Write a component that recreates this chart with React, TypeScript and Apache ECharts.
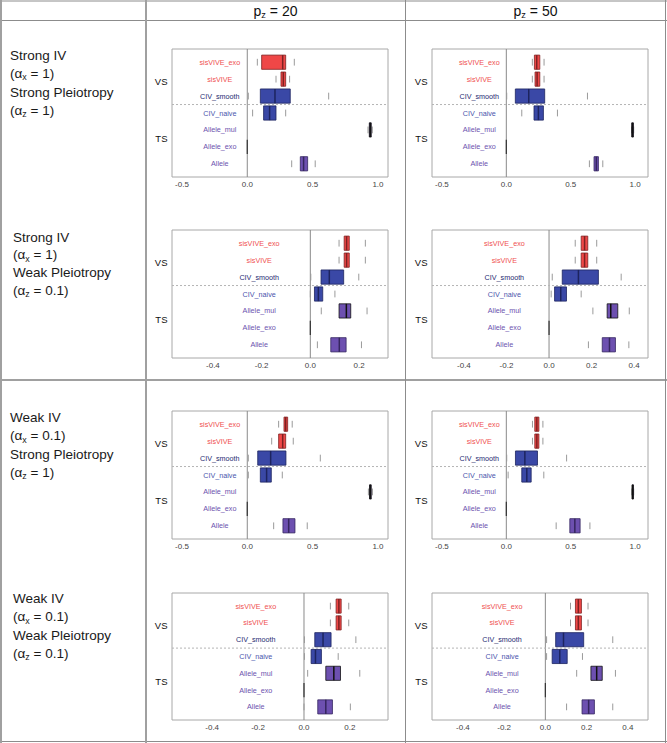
import React, { useEffect, useRef } from "react";
import * as echarts from "echarts";

// ---------- data ----------
const methods = ["sisVIVE_exo", "sisVIVE", "CIV_smooth", "CIV_naive", "Allele_mul", "Allele_exo", "Allele"];
const methodPos = [7, 6, 5, 4, 3, 2, 1];
const groupNames = ["VS", "TS"];
const groupPos = [5.85, 2.5];
const colTitles = ["20", "50"];

// each row: [lower staple, q1, median, q3, upper staple]
const strongIVStrongPleioPz20 = [
  [0.077, 0.110, 0.271, 0.294, 0.360],
  [0.220, 0.258, 0.276, 0.294, 0.324],
  [0.008, 0.100, 0.212, 0.329, 0.623],
  [0.041, 0.125, 0.171, 0.220, 0.294],
  [0.924, 0.934, 0.941, 0.949, 0.957],
  [0, 0, 0, 0, 0],
  [0.340, 0.406, 0.431, 0.462, 0.520],
];
const strongIVStrongPleioPz50 = [
  [0.202, 0.218, 0.236, 0.260, 0.293],
  [0.202, 0.223, 0.239, 0.260, 0.293],
  [0.003, 0.070, 0.174, 0.298, 0.630],
  [0.120, 0.215, 0.249, 0.288, 0.397],
  [0.972, 0.974, 0.979, 0.987, 0.989],
  [0, 0, 0, 0, 0],
  [0.645, 0.681, 0.699, 0.715, 0.749],
];
const strongIVWeakPleioPz20 = [
  [0.118, 0.139, 0.149, 0.160, 0.226],
  [0.118, 0.139, 0.149, 0.160, 0.226],
  [0.002, 0.044, 0.078, 0.137, 0.199],
  [0.000, 0.017, 0.033, 0.051, 0.101],
  [0.045, 0.118, 0.148, 0.166, 0.233],
  [0, 0, 0, 0, 0],
  [0.029, 0.084, 0.119, 0.147, 0.210],
];
const strongIVWeakPleioPz50 = [
  [0.123, 0.151, 0.167, 0.182, 0.224],
  [0.123, 0.151, 0.167, 0.182, 0.224],
  [0.015, 0.062, 0.138, 0.232, 0.339],
  [0.010, 0.026, 0.055, 0.082, 0.151],
  [0.206, 0.273, 0.290, 0.323, 0.377],
  [0, 0, 0, 0, 0],
  [0.185, 0.250, 0.284, 0.312, 0.375],
];
const weakIVStrongPleioPz20 = [
  [0.240, 0.281, 0.294, 0.309, 0.344],
  [0.187, 0.240, 0.271, 0.294, 0.352],
  [0.008, 0.080, 0.179, 0.296, 0.559],
  [0.008, 0.100, 0.148, 0.184, 0.268],
  [0.927, 0.936, 0.941, 0.949, 0.958],
  [0, 0, 0, 0, 0],
  [0.202, 0.273, 0.317, 0.365, 0.459],
];
const weakIVStrongPleioPz50 = [
  [0.203, 0.221, 0.237, 0.253, 0.284],
  [0.203, 0.221, 0.237, 0.253, 0.284],
  [0.003, 0.071, 0.144, 0.242, 0.468],
  [0.014, 0.120, 0.159, 0.193, 0.291],
  [0.974, 0.976, 0.981, 0.987, 0.989],
  [0, 0, 0, 0, 0],
  [0.387, 0.493, 0.532, 0.573, 0.649],
];
const weakIVWeakPleioPz20 = [
  [0.115, 0.140, 0.152, 0.162, 0.195],
  [0.115, 0.140, 0.152, 0.162, 0.195],
  [0.002, 0.047, 0.083, 0.118, 0.226],
  [0.002, 0.031, 0.050, 0.076, 0.149],
  [0.016, 0.095, 0.130, 0.159, 0.243],
  [0, 0, 0, 0, 0],
  [0.000, 0.060, 0.095, 0.124, 0.202],
];
const weakIVWeakPleioPz50 = [
  [0.122, 0.146, 0.160, 0.175, 0.207],
  [0.122, 0.146, 0.160, 0.175, 0.207],
  [0.006, 0.050, 0.088, 0.186, 0.327],
  [0.006, 0.033, 0.070, 0.106, 0.180],
  [0.152, 0.221, 0.249, 0.276, 0.340],
  [0, 0, 0, 0, 0],
  [0.103, 0.178, 0.210, 0.238, 0.327],
];

const ticksWide = [-0.5, 0, 0.5, 1.0];
const ticksNarrow = [-0.4, -0.2, 0, 0.2];
const ticksNarrow4 = [-0.4, -0.2, 0, 0.2, 0.4];

const rowLabels = [
  [["Strong IV"], ["(α", "x", " = 1)"], ["Strong Pleiotropy"], ["(α", "z", " = 1)"]],
  [["Strong IV"], ["(α", "x", " = 1)"], ["Weak Pleiotropy"], ["(α", "z", " = 0.1)"]],
  [["Weak IV"], ["(α", "x", " = 0.1)"], ["Strong Pleiotropy"], ["(α", "z", " = 1)"]],
  [["Weak IV"], ["(α", "x", " = 0.1)"], ["Weak Pleiotropy"], ["(α", "z", " = 0.1)"]],
];

// ---------- styles / layout ----------
const FONT = '"Liberation Sans", Arial, sans-serif';
const methodFill = ["#ef4747", "#ef4747", "#3a48a6", "#3a48a6", "#6d50b0", "#6d50b0", "#6d50b0"];
const methodBorder = ["#7d2222", "#7d2222", "#1d245f", "#1d245f", "#111111", "#222222", "#35265f"];
const methodLabelColor = ["#ef5050", "#ef5050", "#262a72", "#4a55ac", "#6c52ae", "#6c52ae", "#6c52ae"];
const LABEL_X = -0.21;

const panels = [
  { data: strongIVStrongPleioPz20, left: 172, top: 49, h: 128, xmin: -0.576, xmax: 1.077, ticks: ticksWide },
  { data: strongIVStrongPleioPz50, left: 432, top: 49, h: 128, xmin: -0.577, xmax: 1.1, ticks: ticksWide },
  { data: strongIVWeakPleioPz20, left: 172, top: 230, h: 128, xmin: -0.568, xmax: 0.319, ticks: ticksNarrow },
  { data: strongIVWeakPleioPz50, left: 432, top: 230, h: 128, xmin: -0.55, xmax: 0.465, ticks: ticksNarrow4 },
  { data: weakIVStrongPleioPz20, left: 172, top: 411, h: 128, xmin: -0.576, xmax: 1.077, ticks: ticksWide },
  { data: weakIVStrongPleioPz50, left: 432, top: 411, h: 128, xmin: -0.577, xmax: 1.1, ticks: ticksWide },
  { data: weakIVWeakPleioPz20, left: 172, top: 593, h: 127, xmin: -0.575, xmax: 0.366, ticks: ticksNarrow },
  { data: weakIVWeakPleioPz50, left: 432, top: 593, h: 127, xmin: -0.55, xmax: 0.498, ticks: ticksNarrow4 },
];
const YMIN = 0.22;
const YMAX = 7.78;

let measureCtx: CanvasRenderingContext2D | null = null;
function measure(text: string, size: number): number {
  if (!measureCtx) measureCtx = document.createElement("canvas").getContext("2d");
  if (!measureCtx) return text.length * size * 0.55;
  measureCtx.font = `${size}px ${FONT}`;
  return measureCtx.measureText(text).width;
}

// parts: [main, sub, main, ...] alternating (index odd => subscript)
function textLine(x: number, y: number, parts: string[], size: number, align: "left" | "center", color: string) {
  const subSize = size * 0.66;
  const widths = parts.map((p, i) => measure(p, i % 2 === 1 ? subSize : size));
  const total = widths.reduce((a, b) => a + b, 0);
  let cx = align === "center" ? x - total / 2 : x;
  const els: any[] = [];
  parts.forEach((p, i) => {
    const sub = i % 2 === 1;
    els.push({
      type: "text",
      x: cx,
      y: sub ? y + size * 0.3 : y,
      style: {
        text: p,
        fontSize: sub ? subSize : size,
        fontFamily: FONT,
        fill: color,
        align: "left",
        verticalAlign: "middle",
      },
    });
    cx += widths[i];
  });
  return els;
}

export default function App() {
  const ref = useRef<HTMLDivElement>(null);
  useEffect(() => {
    if (!ref.current) return;
    const chart = echarts.init(ref.current, undefined, { renderer: "svg", width: 667, height: 743 });

    const grid = panels.map((p) => ({
      left: p.left,
      top: p.top,
      width: 216,
      height: p.h,
      show: true,
      borderColor: "#a8a8a8",
      borderWidth: 1,
      backgroundColor: "transparent",
    }));
    const xAxis = panels.map((p, i) => ({
      type: "value",
      gridIndex: i,
      min: p.xmin,
      max: p.xmax,
      axisLine: { show: false },
      axisTick: { show: false },
      splitLine: { show: false },
      axisLabel: {
        customValues: p.ticks,
        formatter: (v: number) => v.toFixed(1),
        fontSize: 8,
        fontFamily: FONT,
        color: "#444",
        margin: 3,
      },
    }));
    const yAxis = panels.map((_, i) => ({
      type: "value",
      gridIndex: i,
      min: YMIN,
      max: YMAX,
      show: false,
    }));

    const series: any[] = [];
    panels.forEach((p, i) => {
      series.push({
        type: "line",
        xAxisIndex: i,
        yAxisIndex: i,
        data: [[0, YMIN], [0, YMAX]],
        symbol: "none",
        silent: true,
        lineStyle: { color: "#8a8a8a", width: 1 },
        z: 1,
      });
      series.push({
        type: "line",
        xAxisIndex: i,
        yAxisIndex: i,
        data: [[p.xmin, 4.5], [p.xmax, 4.5]],
        symbol: "none",
        silent: true,
        lineStyle: { color: "#b4b4b4", width: 1, type: [2, 2] },
        z: 1,
      });
      series.push({
        type: "custom",
        xAxisIndex: i,
        yAxisIndex: i,
        silent: true,
        z: 3,
        encode: { x: [1, 2, 3, 4, 5], y: 0 },
        data: methods.map((m, k) => ({ name: m, value: [methodPos[k], ...p.data[k]] })),
        renderItem: (params: any, api: any) => {
          const k = params.dataIndex;
          const pos = api.value(0);
          const lo = api.value(1), q1 = api.value(2), med = api.value(3), q3 = api.value(4), hi = api.value(5);
          const unit = api.size([0, 1])[1];
          const yc = api.coord([0, pos])[1];
          const X = (v: number) => api.coord([v, pos])[0];
          const bh = unit * 0.42;
          const sh = unit * 0.2;
          const children: any[] = [];
          if (hi - lo > 1e-9) {
            [lo, hi].forEach((v) => {
              children.push({
                type: "line",
                shape: { x1: X(v), y1: yc - sh, x2: X(v), y2: yc + sh },
                style: { stroke: "#9a9a9a", lineWidth: 1 },
              });
            });
            children.push({
              type: "rect",
              shape: { x: X(q1), y: yc - bh, width: Math.max(X(q3) - X(q1), 1), height: 2 * bh },
              style: { fill: methodFill[k], stroke: methodBorder[k], lineWidth: 0.8 },
            });
            children.push({
              type: "line",
              shape: { x1: X(med), y1: yc - bh, x2: X(med), y2: yc + bh },
              style: { stroke: methodBorder[k], lineWidth: 1.5 },
            });
          } else {
            children.push({
              type: "line",
              shape: { x1: X(med), y1: yc - bh, x2: X(med), y2: yc + bh },
              style: { stroke: "#333333", lineWidth: 1.2 },
            });
          }
          const lp = api.coord([LABEL_X, pos]);
          children.push({
            type: "text",
            x: lp[0],
            y: lp[1],
            style: {
              text: methods[k],
              fontSize: 7.2,
              fontFamily: FONT,
              fill: methodLabelColor[k],
              align: "center",
              verticalAlign: "middle",
            },
          });
          return { type: "group", children };
        },
      });
      series.push({
        type: "custom",
        xAxisIndex: i,
        yAxisIndex: i,
        silent: true,
        z: 3,
        encode: { x: 0, y: 1 },
        data: groupNames.map((g, k) => ({ name: g, value: [p.xmin, groupPos[k]] })),
        renderItem: (params: any, api: any) => {
          const pt = api.coord([api.value(0), api.value(1)]);
          return {
            type: "text",
            x: params.coordSys.x - 4.5,
            y: pt[1],
            style: {
              text: groupNames[params.dataIndex],
              fontSize: 9.5,
              fontFamily: FONT,
              fill: "#111",
              align: "right",
              verticalAlign: "middle",
            },
          };
        },
      });
    });

    // table frame and texts
    const graphic: any[] = [];
    const hline = (y: number, w = 1, c = "#8c8c8c") =>
      graphic.push({ type: "line", shape: { x1: 0, y1: y, x2: 667, y2: y }, style: { stroke: c, lineWidth: w }, silent: true });
    const vline = (x: number, w = 1, c = "#8c8c8c") =>
      graphic.push({ type: "line", shape: { x1: x, y1: 0, x2: x, y2: 743 }, style: { stroke: c, lineWidth: w }, silent: true });
    hline(1);
    hline(20.5);
    hline(380, 2, "#a0a0a0");
    hline(741.5);
    vline(1, 2, "#a0a0a0");
    vline(146, 2, "#a0a0a0");
    vline(405.5);
    vline(665.5);

    const colCenters = [275.5, 535.5];
    colTitles.forEach((t, c) => {
      textLine(colCenters[c], 10.5, ["p", "z", " = " + t], 14, "center", "#111").forEach((e) => graphic.push(e));
    });

    const rowLabelLayout = [
      { x: 10, ys: [55, 73, 92, 110] },
      { x: 13, ys: [237, 254.5, 272, 290] },
      { x: 10, ys: [417, 435.5, 454, 472] },
      { x: 13, ys: [598, 616.5, 635, 653] },
    ];
    rowLabels.forEach((lines, r) => {
      lines.forEach((parts, j) => {
        textLine(rowLabelLayout[r].x, rowLabelLayout[r].ys[j], parts as string[], 13.5, "left", "#1a1a1a").forEach((e) =>
          graphic.push(e)
        );
      });
    });

    chart.setOption({
      animation: false,
      backgroundColor: "#ffffff",
      grid,
      xAxis,
      yAxis,
      series,
      graphic: { elements: graphic },
    });
    return () => chart.dispose();
  }, []);
  return <div ref={ref} style={{ position: "absolute", left: 0, top: 0, width: 667, height: 743, background: "#fff" }} />;
}
